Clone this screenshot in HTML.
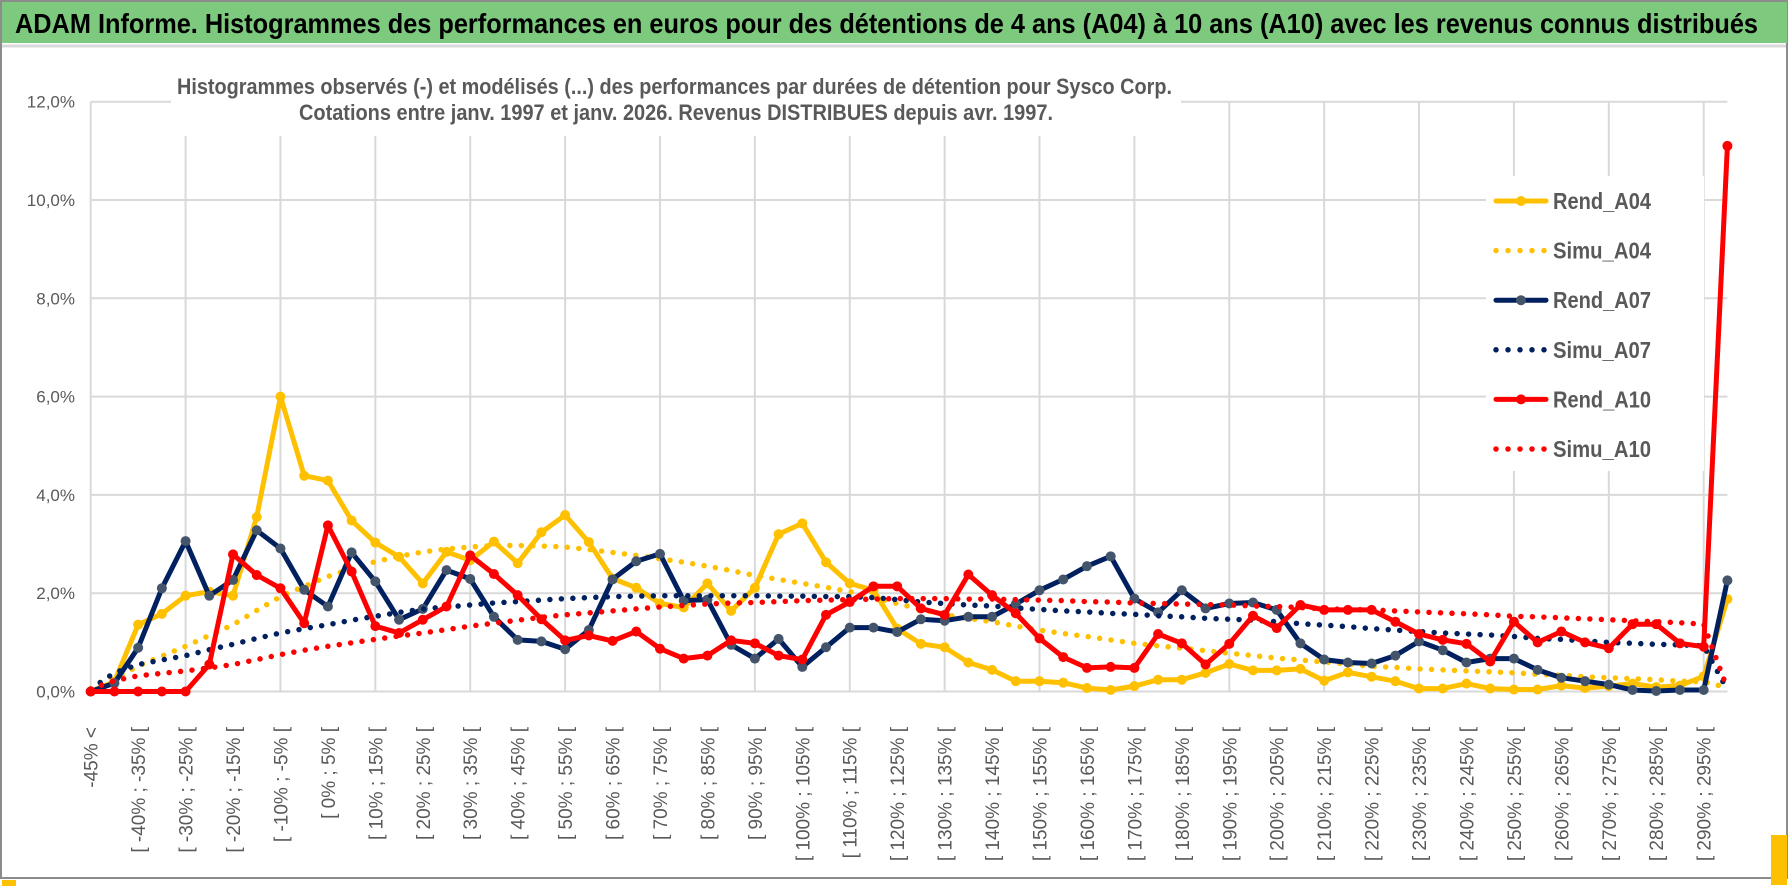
<!DOCTYPE html>
<html><head><meta charset="utf-8"><style>
html,body{margin:0;padding:0;background:#fff;}
svg{display:block;font-family:"Liberation Sans",sans-serif;}
</style></head><body>
<svg id="chart" width="1790" height="888" viewBox="0 0 1790 888" xmlns="http://www.w3.org/2000/svg">
  <rect x="0" y="0" width="1790" height="888" fill="#fff"/>
  <rect x="1" y="1" width="1786" height="877" fill="none" stroke="#8c8c8c" stroke-width="2"/>
  <rect x="2" y="2" width="1785" height="41" fill="#7dc97d"/>
  <line x1="2" y1="46" x2="1786" y2="46" stroke="#d9d9d9" stroke-width="3"/>
  <text x="15" y="33" font-size="28" font-weight="bold" fill="#000" textLength="1743" lengthAdjust="spacingAndGlyphs">ADAM Informe. Histogrammes des performances en euros pour des détentions de 4 ans (A04) à 10 ans (A10) avec les revenus connus distribués</text>
  <rect x="1771" y="835" width="16" height="50" fill="#ffc000"/>
  <rect x="2" y="880" width="14" height="6" fill="#ffc000"/>
  <g id="grid"></g>
  <g id="ylabels"></g>
  <g id="xlabels"></g>
  <rect x="171" y="58" width="1010" height="78" fill="#fff"/>
  <text x="177" y="94" font-size="22" font-weight="bold" fill="#595959" textLength="995" lengthAdjust="spacingAndGlyphs">Histogrammes observés (-) et modélisés (...) des performances par durées de détention pour Sysco Corp.</text>
  <text x="299" y="120" font-size="22" font-weight="bold" fill="#595959" textLength="754" lengthAdjust="spacingAndGlyphs">Cotations entre janv. 1997 et janv. 2026. Revenus DISTRIBUES depuis avr. 1997.</text>
  <g id="series"></g>
  <rect x="1486" y="176" width="218" height="295" fill="#fff"/>
  <g id="legend"></g>
</svg>
<script>
const categories = ["-45% <","[ -45% ; -40% [","[ -40% ; -35% [","[ -35% ; -30% [","[ -30% ; -25% [","[ -25% ; -20% [","[ -20% ; -15% [","[ -15% ; -10% [","[ -10% ; -5% [","[ -5% ; 0% [","[ 0% ; 5% [","[ 5% ; 10% [","[ 10% ; 15% [","[ 15% ; 20% [","[ 20% ; 25% [","[ 25% ; 30% [","[ 30% ; 35% [","[ 35% ; 40% [","[ 40% ; 45% [","[ 45% ; 50% [","[ 50% ; 55% [","[ 55% ; 60% [","[ 60% ; 65% [","[ 65% ; 70% [","[ 70% ; 75% [","[ 75% ; 80% [","[ 80% ; 85% [","[ 85% ; 90% [","[ 90% ; 95% [","[ 95% ; 100% [","[ 100% ; 105% [","[ 105% ; 110% [","[ 110% ; 115% [","[ 115% ; 120% [","[ 120% ; 125% [","[ 125% ; 130% [","[ 130% ; 135% [","[ 135% ; 140% [","[ 140% ; 145% [","[ 145% ; 150% [","[ 150% ; 155% [","[ 155% ; 160% [","[ 160% ; 165% [","[ 165% ; 170% [","[ 170% ; 175% [","[ 175% ; 180% [","[ 180% ; 185% [","[ 185% ; 190% [","[ 190% ; 195% [","[ 195% ; 200% [","[ 200% ; 205% [","[ 205% ; 210% [","[ 210% ; 215% [","[ 215% ; 220% [","[ 220% ; 225% [","[ 225% ; 230% [","[ 230% ; 235% [","[ 235% ; 240% [","[ 240% ; 245% [","[ 245% ; 250% [","[ 250% ; 255% [","[ 255% ; 260% [","[ 260% ; 265% [","[ 265% ; 270% [","[ 270% ; 275% [","[ 275% ; 280% [","[ 280% ; 285% [","[ 285% ; 290% [","[ 290% ; 295% [","[ 295% ; 300% ["];
const yTicks = [0, 2, 4, 6, 8, 10, 12];
const yTickLabels = ["0,0%","2,0%","4,0%","6,0%","8,0%","10,0%","12,0%"];
const rendA04 = [0,0.2,1.36,1.58,1.95,2.03,1.95,3.55,6.0,4.39,4.29,3.48,3.03,2.74,2.2,2.84,2.67,3.05,2.61,3.24,3.59,3.04,2.3,2.11,1.79,1.71,2.2,1.64,2.11,3.2,3.42,2.63,2.2,2.06,1.28,0.97,0.9,0.59,0.44,0.21,0.21,0.18,0.07,0.03,0.11,0.24,0.24,0.38,0.56,0.43,0.43,0.46,0.22,0.39,0.3,0.21,0.06,0.06,0.16,0.06,0.04,0.04,0.12,0.07,0.11,0.16,0.09,0.12,0.31,1.88];
const simuA04 = [0.05,0.25,0.52,0.72,0.92,1.14,1.36,1.65,1.93,2.14,2.34,2.5,2.64,2.75,2.84,2.9,2.94,2.97,2.97,2.96,2.94,2.89,2.83,2.77,2.7,2.63,2.55,2.46,2.36,2.28,2.2,2.12,2.03,1.92,1.79,1.67,1.56,1.49,1.42,1.33,1.25,1.18,1.12,1.05,0.98,0.93,0.88,0.83,0.78,0.73,0.68,0.64,0.6,0.56,0.51,0.49,0.46,0.44,0.42,0.4,0.38,0.35,0.33,0.3,0.28,0.26,0.24,0.21,0.2,0.08];
const rendA07 = [0,0.17,0.89,2.1,3.06,1.95,2.27,3.28,2.91,2.07,1.73,2.83,2.24,1.46,1.68,2.47,2.29,1.52,1.05,1.02,0.86,1.25,2.28,2.65,2.8,1.85,1.87,0.95,0.67,1.07,0.5,0.9,1.3,1.3,1.21,1.47,1.44,1.52,1.52,1.78,2.06,2.28,2.55,2.75,1.89,1.61,2.06,1.69,1.79,1.81,1.66,0.98,0.65,0.59,0.57,0.73,1.02,0.84,0.59,0.67,0.67,0.44,0.28,0.21,0.14,0.03,0.01,0.03,0.03,2.26];
const simuA07 = [0.05,0.38,0.55,0.64,0.73,0.85,0.96,1.08,1.19,1.28,1.36,1.45,1.53,1.61,1.68,1.72,1.76,1.8,1.83,1.86,1.89,1.91,1.93,1.94,1.95,1.95,1.95,1.95,1.95,1.94,1.94,1.93,1.93,1.91,1.87,1.82,1.79,1.76,1.74,1.7,1.67,1.64,1.62,1.59,1.57,1.54,1.52,1.49,1.47,1.45,1.42,1.38,1.35,1.32,1.28,1.25,1.22,1.19,1.17,1.15,1.12,1.08,1.06,1.03,1.0,0.98,0.96,0.95,0.93,0.03];
const rendA10 = [0,0,0,0,0,0.55,2.79,2.37,2.1,1.39,3.38,2.44,1.33,1.19,1.46,1.73,2.77,2.39,1.96,1.47,1.04,1.14,1.03,1.22,0.87,0.67,0.73,1.04,0.98,0.73,0.65,1.56,1.82,2.14,2.14,1.69,1.56,2.38,1.96,1.59,1.08,0.7,0.48,0.5,0.48,1.17,0.98,0.55,0.97,1.54,1.29,1.76,1.66,1.66,1.66,1.42,1.17,1.05,0.97,0.61,1.42,1.0,1.22,1.0,0.88,1.37,1.37,0.98,0.91,11.1];
const simuA10 = [0.05,0.22,0.32,0.37,0.42,0.48,0.55,0.65,0.75,0.84,0.92,0.99,1.06,1.13,1.19,1.26,1.33,1.39,1.45,1.51,1.56,1.6,1.64,1.68,1.72,1.75,1.78,1.8,1.81,1.83,1.85,1.86,1.87,1.88,1.89,1.89,1.89,1.88,1.88,1.87,1.86,1.85,1.83,1.82,1.8,1.79,1.78,1.77,1.76,1.74,1.73,1.71,1.68,1.67,1.66,1.64,1.62,1.6,1.58,1.56,1.53,1.52,1.5,1.48,1.46,1.44,1.42,1.4,1.37,0.05];
const seriesNames = ["Rend_A04","Simu_A04","Rend_A07","Simu_A07","Rend_A10","Simu_A10"];

const NS = "http://www.w3.org/2000/svg";
const X0 = 90.7, X1 = 1727.4, Y0 = 691.5, Y12 = 101.7;
function xPos(i){ return X0 + i * (X1 - X0) / (categories.length - 1); }
function yPos(v){ return Y0 - v * (Y0 - Y12) / 12; }
function mk(tag, attrs, parent){ const e = document.createElementNS(NS, tag); for (const k in attrs) e.setAttribute(k, attrs[k]); parent.appendChild(e); return e; }

const grid = document.getElementById('grid');
yTicks.forEach(function(t){
  const l = mk('line', {x1: X0, x2: X1, y1: yPos(t), y2: yPos(t), stroke: '#d9d9d9', 'stroke-width': 2}, grid);
  
  
});
for (let i = 0; i < categories.length; i += 4) {
  const l = mk('line', {x1: xPos(i), x2: xPos(i), y1: Y12, y2: Y0, stroke: '#d9d9d9', 'stroke-width': 2}, grid);
  
  
}
const yl = document.getElementById('ylabels');
yTicks.forEach(function(t, k){
  const tx = mk('text', {x: 75, y: yPos(t) + 6, 'text-anchor': 'end', 'font-size': 17, fill: '#595959'}, yl);
  tx.textContent = yTickLabels[k];
  
  
});
const xl = document.getElementById('xlabels');
categories.forEach(function(c, i){
  if (i % 2 !== 0) return;
  const x = xPos(i) + 7, y = 727;
  const tx = mk('text', {x: x, y: y, transform: 'rotate(-90 ' + x + ' ' + y + ')', 'text-anchor': 'end', 'font-size': 19, fill: '#595959'}, xl);
  tx.textContent = c;
  
  
});

const sg = document.getElementById('series');
function drawSeries(values, color, dotted, markerColor, name){
  const g = mk('g', {}, sg);
  
  
  const pts = values.map(function(v, i){ return xPos(i).toFixed(1) + ',' + yPos(v).toFixed(1); }).join(' ');
  const attrs = {points: pts, fill: 'none', stroke: color, 'stroke-width': 5, 'stroke-linejoin': 'round', 'stroke-linecap': 'round'};
  if (dotted) { attrs['stroke-dasharray'] = '0 11.5'; attrs['stroke-width'] = 5.5; }
  const pl = mk('polyline', attrs, g);
  
  
  if (!dotted) {
    values.forEach(function(v, i){
      const c = mk('circle', {cx: xPos(i), cy: yPos(v), r: 5, fill: markerColor}, g);
      
      
    });
  }
}
drawSeries(rendA04, '#ffc000', false, '#ffc000', 'rend-a04');
drawSeries(simuA04, '#ffc000', true, null, 'simu-a04');
drawSeries(rendA07, '#002060', false, '#44546a', 'rend-a07');
drawSeries(simuA07, '#002060', true, null, 'simu-a07');
drawSeries(rendA10, '#ff0000', false, '#ff0000', 'rend-a10');
drawSeries(simuA10, '#ff0000', true, null, 'simu-a10');

const lg = document.getElementById('legend');
const legColors = ['#ffc000','#ffc000','#002060','#002060','#ff0000','#ff0000'];
const legMarkers = ['#ffc000',null,'#44546a',null,'#ff0000',null];
seriesNames.forEach(function(n, k){
  const y = 201 + k * 49.6;
  const g = mk('g', {}, lg);
  
  
  const dotted = k % 2 === 1;
  const a = {x1: 1496, x2: 1546, y1: y, y2: y, stroke: legColors[k], 'stroke-width': dotted ? 5.5 : 5, 'stroke-linecap': 'round'};
  if (dotted) a['stroke-dasharray'] = '0 12';
  const l = mk('line', a, g);
  
  
  if (legMarkers[k]) {
    const c = mk('circle', {cx: 1521, cy: y, r: 5, fill: legMarkers[k]}, g);
    
    
  }
  const t = mk('text', {x: 1553, y: y + 8, 'font-size': 23, 'font-weight': 'bold', fill: '#595959', textLength: 98, lengthAdjust: 'spacingAndGlyphs'}, g);
  t.textContent = n;
  
  
});
</script>
</body></html>
